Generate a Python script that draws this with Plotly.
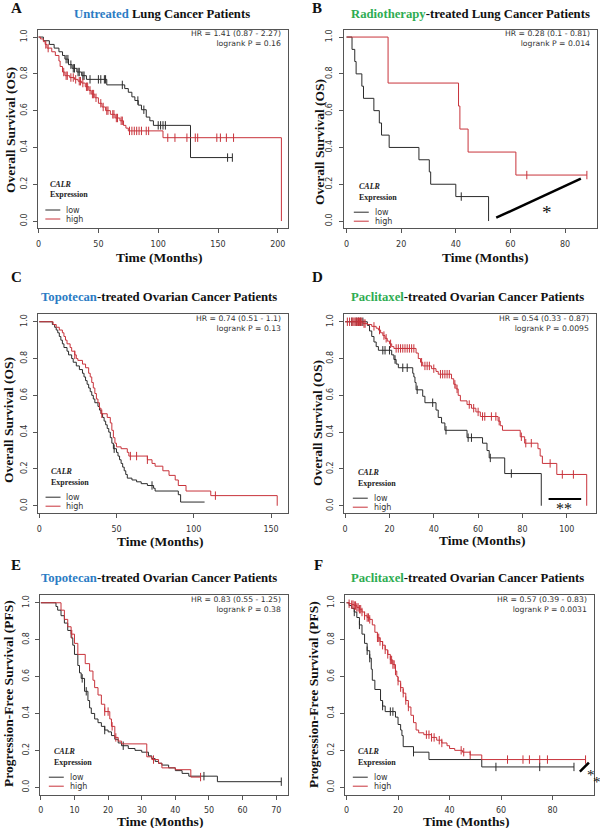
import plotly.graph_objects as go

# ---- data (time in months, survival fraction) ----

# A: untreated lung cancer, OS
a_low_t = [4, 9, 13, 17, 20, 22, 25, 28, 32, 36, 40, 57, 72, 75, 78, 80.5, 83.3, 86, 90, 93, 96, 127]
a_low_s = [0.98, 0.96, 0.94, 0.92, 0.90, 0.88, 0.85, 0.83, 0.81, 0.79, 0.77, 0.74, 0.72, 0.70, 0.675,
           0.655, 0.63, 0.605, 0.565, 0.545, 0.52, 0.345]
a_low_end = 162
a_low_cens = [23, 24.5, 27, 29, 30, 33, 34, 37, 38, 43, 50, 52, 55, 56, 70, 83, 88, 100, 102, 104, 106, 158, 162]
a_high_t = [1.5, 4, 5.5, 7, 11, 14, 17, 18, 20, 22, 26, 30, 33, 36, 39, 42, 44, 47, 50, 53, 56, 60, 64, 68,
            71, 73, 75, 104, 203]
a_high_s = [0.99, 0.975, 0.96, 0.94, 0.92, 0.90, 0.87, 0.84, 0.81, 0.79, 0.78, 0.77, 0.76, 0.75, 0.73, 0.71,
            0.69, 0.67, 0.64, 0.62, 0.60, 0.58, 0.56, 0.545, 0.52, 0.505, 0.49, 0.453, 0.0]
a_high_end = 203
a_high_cens = [6, 8, 21, 23, 24, 27, 29, 31, 34, 35, 37, 40, 41, 43, 45, 46, 48, 52, 54, 57, 58, 62, 63, 65,
               66, 69, 70, 76, 78, 80, 82, 84, 86, 90, 92, 108, 114, 124, 131, 133, 149, 152, 157, 163]

# B: radiotherapy-treated lung cancer, OS
b_low_t = [2, 3, 3.5, 5.6, 6.2, 10, 12, 12.8, 15.6, 26.5, 30.3, 30.8, 40, 52]
b_low_s = [0.933, 0.867, 0.8, 0.733, 0.667, 0.6, 0.533, 0.467, 0.4, 0.333, 0.267, 0.2, 0.133, 0.0]
b_low_end = 52
b_low_cens = [42]
b_high_t = [15.2, 41, 41.5, 44.5, 62]
b_high_s = [0.75, 0.625, 0.5, 0.375, 0.25]
b_high_end = 88
b_high_cens = [66, 88]

# C: topotecan-treated ovarian cancer, OS
c_low_t = [8.5, 10, 11, 12, 13, 14, 15, 16, 18, 19, 21, 22, 24, 26, 28, 29, 30, 31, 32, 33, 34, 35, 36, 38,
           39, 40, 41, 42, 43, 44, 45, 46, 47, 48, 50, 51, 52, 53, 54, 55, 56, 57, 60, 63, 66, 70, 74, 75,
           90, 91.5]
c_low_s = [0.985, 0.97, 0.955, 0.94, 0.92, 0.90, 0.88, 0.86, 0.84, 0.82, 0.80, 0.78, 0.76, 0.74, 0.72, 0.70,
           0.68, 0.66, 0.64, 0.62, 0.60, 0.58, 0.56, 0.54, 0.52, 0.50, 0.48, 0.46, 0.44, 0.42, 0.40, 0.37,
           0.34, 0.31, 0.29, 0.27, 0.25, 0.23, 0.21, 0.19, 0.17, 0.15, 0.14, 0.13, 0.12, 0.11, 0.095, 0.08,
           0.06, 0.02]
c_low_end = 107
c_low_cens = [48.5, 73]
c_high_t = [9, 11, 13, 15, 16, 17, 18, 20, 21, 23, 24, 25, 28, 30, 32, 33, 34, 35, 36, 37, 38, 39, 40, 44,
            46, 47, 48, 49, 50, 53, 57, 58, 70, 73, 75, 80, 84, 88, 90, 95, 111, 154]
c_high_s = [0.985, 0.97, 0.955, 0.94, 0.92, 0.90, 0.88, 0.86, 0.84, 0.82, 0.80, 0.79, 0.77, 0.75, 0.72,
            0.70, 0.67, 0.64, 0.61, 0.58, 0.56, 0.53, 0.50, 0.48, 0.45, 0.41, 0.37, 0.34, 0.32, 0.31, 0.29,
            0.27, 0.25, 0.23, 0.215, 0.19, 0.165, 0.14, 0.11, 0.08, 0.055, 0.0]
c_high_end = 154
c_high_cens = [23, 40.5, 59, 63, 70, 114]

# D: paclitaxel-treated ovarian cancer, OS
d_low_t = [10, 11, 12, 13, 14, 15, 21, 22, 23, 24, 30.5, 31, 31.5, 32, 35, 36, 41, 42, 43.5, 45, 55, 62,
           64, 65, 72, 88.5]
d_low_s = [0.98, 0.95, 0.92, 0.89, 0.865, 0.845, 0.82, 0.795, 0.77, 0.75, 0.72, 0.70, 0.67, 0.63, 0.595,
           0.56, 0.52, 0.48, 0.45, 0.41, 0.37, 0.34, 0.30, 0.26, 0.175, 0.0]
d_low_end = 88.5
d_low_cens = [3, 5, 6, 7, 8, 17, 18, 20, 22.5, 26, 28, 32.5, 39.5, 45.5, 55.5, 57, 65.5, 75]
d_high_t = [8, 10, 12, 14, 15, 16, 17, 18, 19, 20, 21, 22, 32, 33, 34, 35, 39, 41, 42, 48, 49, 50, 51, 52,
            55, 57, 59, 61, 69, 70, 71, 79, 81, 87, 88, 89, 95.5, 109]
d_high_s = [0.99, 0.985, 0.975, 0.965, 0.955, 0.94, 0.925, 0.91, 0.895, 0.88, 0.865, 0.855, 0.83, 0.80,
            0.78, 0.76, 0.745, 0.73, 0.715, 0.69, 0.66, 0.635, 0.60, 0.57, 0.55, 0.53, 0.51, 0.485, 0.46,
            0.435, 0.41, 0.375, 0.34, 0.31, 0.27, 0.23, 0.17, 0.0]
d_high_end = 109
d_high_cens = [1, 2, 3, 3.5, 4, 4.5, 5, 5.5, 6, 6.5, 7, 7.5, 8.5, 9, 13, 15.5, 17.5, 18.5, 20.5, 23, 24, 25,
               26, 27, 28, 29, 30, 31, 34.5, 36, 37, 38, 40, 43, 44, 45, 46, 47, 49.5, 50.5, 56, 58, 60, 62,
               63, 66, 68, 69.5, 79.5, 81.5, 84, 92.5, 98, 103]

# E: topotecan-treated ovarian cancer, PFS
e_low_t = [4.5, 5, 6, 7, 8, 9, 9.5, 10, 11, 11.5, 12, 13, 14, 14.5, 15, 16, 17, 18, 19, 20, 21, 22, 23, 24,
           26, 28, 30, 32, 33, 34, 35, 36, 38, 40, 42, 44, 52.5]
e_low_s = [0.98, 0.96, 0.93, 0.89, 0.85, 0.81, 0.77, 0.72, 0.66, 0.62, 0.59, 0.52, 0.47, 0.43, 0.40, 0.37,
           0.35, 0.33, 0.31, 0.30, 0.28, 0.26, 0.24, 0.225, 0.21, 0.20, 0.19, 0.17, 0.155, 0.14, 0.13, 0.12,
           0.105, 0.09, 0.075, 0.06, 0.03]
e_low_end = 71.5
e_low_cens = [12.3, 13.5, 19, 24.5, 48.5, 71.5]
e_high_t = [6, 7, 8, 9, 10, 11, 13.2, 14.5, 15.5, 16, 17, 18, 19, 20.5, 21, 22, 23, 24, 31.5, 33, 35, 36,
            40, 44.6]
e_high_s = [0.96, 0.91, 0.87, 0.83, 0.78, 0.72, 0.67, 0.63, 0.58, 0.54, 0.50, 0.45, 0.41, 0.37, 0.33, 0.27,
            0.25, 0.235, 0.165, 0.15, 0.13, 0.105, 0.095, 0.055]
e_high_end = 47.5
e_high_cens = [9.2, 19, 20, 21.2, 22.3, 33.5, 47.5]

# F: paclitaxel-treated ovarian cancer, PFS
f_low_t = [1, 2, 3, 4, 5, 6, 7, 8, 9, 9.6, 10, 11, 13.2, 14, 15, 19, 20, 21, 21.5, 22, 26, 32, 52.5]
f_low_s = [0.985, 0.97, 0.95, 0.92, 0.88, 0.83, 0.78, 0.74, 0.70, 0.64, 0.58, 0.53, 0.47, 0.44, 0.41, 0.38,
           0.34, 0.31, 0.28, 0.22, 0.19, 0.15, 0.11]
f_low_end = 88.3
f_low_cens = [3, 5, 8, 9, 14, 17, 18, 26, 58, 75, 88.3]
f_high_t = [1, 2, 3, 4, 5, 6, 7, 8, 9, 10, 11, 12, 13, 14, 15, 16, 17, 18, 19, 19.5, 20, 21, 22, 23, 24, 25,
            26, 27, 28, 30, 33, 35, 37, 39, 40, 42, 45, 48, 52.5]
f_high_s = [0.995, 0.99, 0.985, 0.975, 0.965, 0.95, 0.93, 0.92, 0.91, 0.88, 0.84, 0.81, 0.79, 0.77, 0.745,
            0.72, 0.69, 0.665, 0.63, 0.60, 0.575, 0.54, 0.51, 0.47, 0.435, 0.39, 0.35, 0.31, 0.295, 0.285,
            0.27, 0.255, 0.24, 0.225, 0.21, 0.20, 0.19, 0.175, 0.15]
f_high_end = 92.8
f_high_cens = [1, 2, 2.5, 3, 3.5, 4, 4.5, 5, 5.5, 6, 7, 8, 8.5, 9, 12, 12.5, 13, 14, 15, 16, 17, 17.5, 18,
               18.5, 19, 20, 21, 22, 23, 24, 31, 32, 33, 34, 36, 37, 44.5, 45.5, 48, 62.5, 68.5, 71, 75, 78,
               92.8]

titles = [("Untreated", "#2b7cc4", " Lung Cancer Patients"),
          ("Radiotherapy", "#2eac52", "-treated Lung Cancer Patients"),
          ("Topotecan", "#2b7cc4", "-treated Ovarian Cancer Patients"),
          ("Paclitaxel", "#2eac52", "-treated Ovarian Cancer Patients"),
          ("Topotecan", "#2b7cc4", "-treated Ovarian Cancer Patients"),
          ("Paclitaxel", "#2eac52", "-treated Ovarian Cancer Patients")]
hr_text = ["HR = 1.41 (0.87 - 2.27)", "HR = 0.28 (0.1 - 0.81)", "HR = 0.74 (0.51 - 1.1)",
           "HR = 0.54 (0.33 - 0.87)", "HR = 0.83 (0.55 - 1.25)", "HR = 0.57 (0.39 - 0.83)"]
p_text = ["logrank P = 0.16", "logrank P = 0.014", "logrank P = 0.13",
          "logrank P = 0.0095", "logrank P = 0.38", "logrank P = 0.0031"]
y_titles = ["Overall Survival (OS)"] * 4 + ["Progression-Free Survival (PFS)"] * 2
x_ticks = [[0, 50, 100, 150, 200], [0, 20, 40, 60, 80], [0, 50, 100, 150],
           [0, 20, 40, 60, 80, 100], [0, 10, 20, 30, 40, 50, 60, 70], [0, 20, 40, 60, 80]]

curves = [
    (a_low_t, a_low_s, a_low_end, a_low_cens, a_high_t, a_high_s, a_high_end, a_high_cens),
    (b_low_t, b_low_s, b_low_end, b_low_cens, b_high_t, b_high_s, b_high_end, b_high_cens),
    (c_low_t, c_low_s, c_low_end, c_low_cens, c_high_t, c_high_s, c_high_end, c_high_cens),
    (d_low_t, d_low_s, d_low_end, d_low_cens, d_high_t, d_high_s, d_high_end, d_high_cens),
    (e_low_t, e_low_s, e_low_end, e_low_cens, e_high_t, e_high_s, e_high_end, e_high_cens),
    (f_low_t, f_low_s, f_low_end, f_low_cens, f_high_t, f_high_s, f_high_end, f_high_cens),
]

# ---- layout geometry (pixels in the 600x828 page) ----
W, H = 600, 828
# plot box: left, right, top, bottom
boxes = [(36, 287.3, 29.7, 228.4), (342.7, 596.7, 29.7, 228.4),
         (36, 287.3, 314.4, 513.1), (343.3, 596, 314.4, 513.1),
         (38.3, 287.3, 595.4, 794.6), (344.3, 594.3, 595.4, 794.6)]
x_ranges = [[-0.6, 208.8], [-1.1, 91.6], [-0.86, 161.2], [-0.45, 113.2], [-0.2, 73.6], [-0.54, 96.2]]
letter_pos = [(7, 8), (309, 8), (7, 277), (309, 277), (7, 565), (311, 565)]
title_pos = [(161, 14), (470, 14), (158, 297), (467, 297), (158, 578), (467, 578)]
xlab_pos = [(158, 257), (485, 257), (159, 541), (482, 540), (159, 821.5), (466, 821)]
ylab_pos = [(8, 130), (318, 142), (6, 420), (316, 423), (6, 693), (312, 694)]
legend_pos = [(46.5, 184.5), (356, 186.7), (46.7, 471.7), (355, 472.7), (50, 751.7), (355, 751.7)]

BLACK = "#2b2b2b"
RED = "#c8333b"
SANS = "DejaVu Sans"
SERIF = "Liberation Serif"


def fx(p):
    return p / W


def fy(p):
    return 1 - p / H


def km_xy(t, s, end):
    x = [0] + list(t)
    y = [1.0] + list(s)
    if end > x[-1]:
        x.append(end)
        y.append(y[-1])
    return x, y


def surv_at(t, s, c):
    v = 1.0
    for ti, si in zip(t, s):
        if ti <= c:
            v = si
    return v


fig = go.Figure()
annotations = []
shapes = []

for i, (lt, ls, lend, lc, ht, hs, hend, hc) in enumerate(curves):
    n = "" if i == 0 else str(i + 1)
    xa, ya = "x" + n, "y" + n
    for t, s, end, cens, col in [(lt, ls, lend, lc, BLACK), (ht, hs, hend, hc, RED)]:
        x, y = km_xy(t, s, end)
        fig.add_trace(go.Scatter(x=x, y=y, mode="lines", line=dict(color=col, width=1, shape="hv"),
                                 xaxis=xa, yaxis=ya, showlegend=False, hoverinfo="skip"))
        fig.add_trace(go.Scatter(x=cens, y=[surv_at(t, s, c) for c in cens], mode="markers",
                                 marker=dict(symbol="line-ns", size=6, line=dict(color=col, width=1)),
                                 xaxis=xa, yaxis=ya, showlegend=False, hoverinfo="skip"))

    l, r, top, bot = boxes[i]
    common = dict(showgrid=False, zeroline=False, showline=True, mirror=True, linecolor="#555",
                  linewidth=1, ticks="outside", ticklen=4, tickcolor="#555",
                  tickfont=dict(family=SANS, size=8, color="#333"))
    fig.update_layout(**{
        "xaxis" + n: dict(domain=[fx(l), fx(r)], anchor=ya, range=x_ranges[i],
                          tickvals=x_ticks[i], ticklabelstandoff=4, **common),
        "yaxis" + n: dict(domain=[fy(bot), fy(top)], anchor=xa, range=[-0.04, 1.04],
                          tickvals=[0, 0.2, 0.4, 0.6, 0.8, 1.0], tickformat=".1f", tickangle=-90,
                          ticklabelstandoff=3, **common),
    })

    lx, ly = letter_pos[i]
    annotations.append(dict(x=fx(lx), y=fy(ly), xref="paper", yref="paper", text="<b>%s</b>" % "ABCDEF"[i],
                            showarrow=False, xanchor="left", yanchor="middle",
                            font=dict(family=SERIF, size=15, color="#111")))
    w1, c1, rest = titles[i]
    tx, ty = title_pos[i]
    annotations.append(dict(x=fx(tx), y=fy(ty), xref="paper", yref="paper",
                            text="<b><span style='color:%s'>%s</span>%s</b>" % (c1, w1, rest),
                            showarrow=False, xanchor="center", yanchor="middle",
                            font=dict(family=SERIF, size=12.7, color="#111")))
    xx, xy = xlab_pos[i]
    annotations.append(dict(x=fx(xx), y=fy(xy), xref="paper", yref="paper", text="<b>Time (Months)</b>",
                            showarrow=False, xanchor="center", yanchor="middle",
                            font=dict(family=SERIF, size=13.5, color="#111")))
    yx, yy = ylab_pos[i]
    annotations.append(dict(x=fx(yx), y=fy(yy), xref="paper", yref="paper", text="<b>%s</b>" % y_titles[i],
                            textangle=-90, showarrow=False, xanchor="center", yanchor="middle",
                            font=dict(family=SERIF, size=13.5, color="#111")))
    annotations.append(dict(x=fx(r - 5), y=fy(top + 9), xref="paper", yref="paper",
                            text=hr_text[i] + "<br>" + p_text[i], align="right",
                            showarrow=False, xanchor="right", yanchor="middle",
                            font=dict(family=SANS, size=7.7, color="#333")))
    # legend block
    gx, gy = legend_pos[i]
    annotations.append(dict(x=fx(gx), y=fy(gy), xref="paper", yref="paper", text="<b><i>CALR</i></b>",
                            showarrow=False, xanchor="left", yanchor="middle",
                            font=dict(family=SERIF, size=8, color="#222")))
    annotations.append(dict(x=fx(gx), y=fy(gy + 10.5), xref="paper", yref="paper", text="<b>Expression</b>",
                            showarrow=False, xanchor="left", yanchor="middle",
                            font=dict(family=SERIF, size=8, color="#222")))
    for k, (lab, col) in enumerate([("low", BLACK), ("high", RED)]):
        yy2 = gy + 25.5 + 9 * k
        shapes.append(dict(type="line", xref="paper", yref="paper", x0=fx(gx - 3), x1=fx(gx + 12),
                           y0=fy(yy2), y1=fy(yy2), line=dict(color=col, width=1)))
        annotations.append(dict(x=fx(gx + 16), y=fy(yy2), xref="paper", yref="paper", text=lab,
                                showarrow=False, xanchor="left", yanchor="middle",
                                font=dict(family=SANS, size=8, color="#333")))

# significance marks
shapes.append(dict(type="line", xref="x2", yref="y2", x0=54.8, y0=0.018, x1=85.8, y1=0.23,
                   line=dict(color="black", width=2.5)))
annotations.append(dict(x=fx(546.7), y=fy(212), xref="paper", yref="paper", text="*", showarrow=False,
                        xanchor="center", yanchor="middle", font=dict(family=SERIF, size=19, color="#111")))
shapes.append(dict(type="line", xref="x4", yref="y4", x0=91.8, y0=0.036, x1=106.5, y1=0.036,
                   line=dict(color="black", width=2)))
annotations.append(dict(x=fx(564.3), y=fy(509), xref="paper", yref="paper", text="**", showarrow=False,
                        xanchor="center", yanchor="middle", font=dict(family=SERIF, size=16, color="#111")))
shapes.append(dict(type="line", xref="x6", yref="y6", x0=90.6, y0=0.085, x1=94.1, y1=0.134,
                   line=dict(color="black", width=2.5)))
annotations.append(dict(x=fx(590.5), y=fy(775), xref="paper", yref="paper", text="*", showarrow=False,
                        xanchor="center", yanchor="middle", font=dict(family=SERIF, size=15, color="#111")))
annotations.append(dict(x=fx(596.5), y=fy(781.5), xref="paper", yref="paper", text="*", showarrow=False,
                        xanchor="center", yanchor="middle", font=dict(family=SERIF, size=15, color="#111")))

fig.update_layout(width=W, height=H, margin=dict(l=0, r=0, t=0, b=0), paper_bgcolor="white",
                  plot_bgcolor="white", showlegend=False, annotations=annotations, shapes=shapes)

# drop the default body margin so the 600x828 figure fills the window exactly
fig.write_html("out.html", config={"displayModeBar": False},
               post_script="document.body.style.margin='0';document.body.style.overflow='hidden';")
